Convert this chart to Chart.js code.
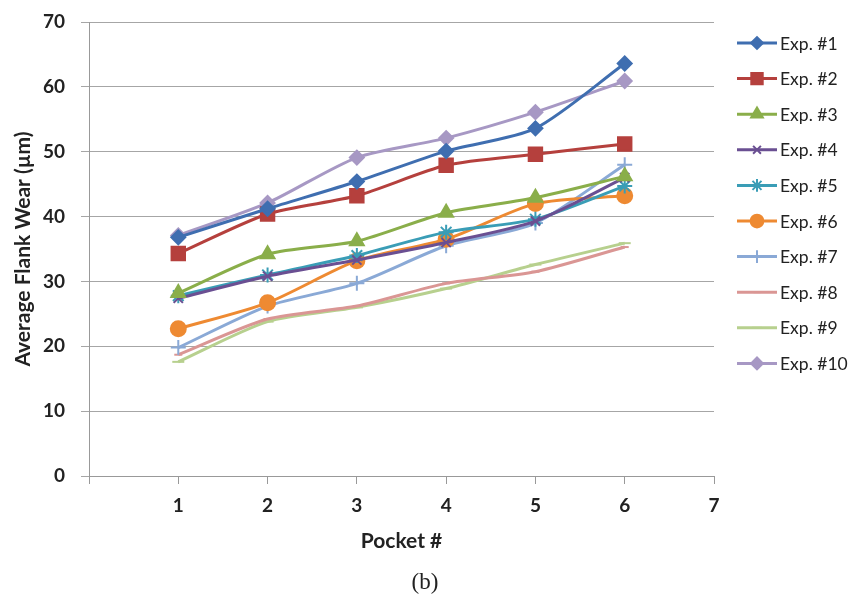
<!DOCTYPE html>
<html>
<head>
<meta charset="utf-8">
<script src="https://cdn.jsdelivr.net/npm/chart.js@4.4.1/dist/chart.umd.min.js"></script>
<style>
  body { margin: 0; background: #fff; }
  #wrap { width: 861px; height: 598px; }
</style>
</head>
<body>
<div id="wrap"><canvas id="wear_chart" width="861" height="598"></canvas></div>
<script>
// values (pocket number vs. average flank wear, um)
const pockets = [1, 2, 3, 4, 5, 6];
const exp1 = [36.8, 41.2, 45.4, 50.1, 53.6, 63.6];
const exp2 = [34.3, 40.4, 43.2, 47.9, 49.6, 51.2];
const exp3 = [28.2, 34.2, 36.2, 40.6, 42.9, 46.2];
const exp4 = [27.4, 30.8, 33.3, 36.0, 39.3, 46.0];
const exp5 = [27.8, 31.0, 34.0, 37.6, 39.6, 44.7];
const exp6 = [22.7, 26.7, 33.2, 36.5, 42.0, 43.2];
const exp7 = [19.8, 26.2, 29.7, 35.5, 39.0, 48.0];
const exp8 = [18.7, 24.2, 26.2, 29.7, 31.5, 35.3];
const exp9 = [17.6, 23.8, 26.0, 28.9, 32.6, 35.9];
const exp10 = [37.1, 42.1, 49.1, 52.1, 56.1, 60.9];

const series_names = ['Exp. #1', 'Exp. #2', 'Exp. #3', 'Exp. #4', 'Exp. #5',
                      'Exp. #6', 'Exp. #7', 'Exp. #8', 'Exp. #9', 'Exp. #10'];
const series_values = [exp1, exp2, exp3, exp4, exp5, exp6, exp7, exp8, exp9, exp10];
const y_ticks = [0, 10, 20, 30, 40, 50, 60, 70];
const x_ticks = [1, 2, 3, 4, 5, 6, 7];

const colors = ['#3f6eb0', '#b5403d', '#8aae4a', '#6a4f92', '#3a9db6',
                '#ee8a32', '#8aa9d6', '#da9694', '#b7d08e', '#a798c4'];
const markers = [
    { style: 'rectRot', r: 7 },
    { style: 'rect', r: 9.5 },
    { style: 'triangle', r: 8 },
    { style: 'crossRot', r: 6.5 },
    { style: 'star', r: 7.5 },
    { style: 'circle', r: 7.5 },
    { style: 'cross', r: 7.5 },
    { style: 'line', r: 4 },
    { style: 'line', r: 6 },
    { style: 'rectRot', r: 7 }
];

const datasets = series_values.map(function(vals, i) {
    return {
        label: series_names[i],
        data: vals.map((v, k) => ({ x: pockets[k], y: v })),
        borderColor: colors[i],
        backgroundColor: colors[i],
        borderWidth: 3,
        tension: 0.25,
        pointStyle: markers[i].style,
        pointRadius: markers[i].r,
        pointBorderWidth: 2,
        pointBorderColor: colors[i],
        pointBackgroundColor: colors[i],
        fill: false
    };
});

const tick_font = { family: 'Lato', size: 19, weight: 'bold' };
const title_font = { family: 'Lato', size: 21, weight: 'bold' };

// legend on the right (line + marker like the spreadsheet one) and the "(b)" caption
const side_legend = {
    id: 'side_legend',
    afterDraw(chart) {
        const ctx = chart.ctx;
        ctx.save();
        chart.data.datasets.forEach(function(ds, i) {
            const y = 43 + i * 35.6;
            ctx.strokeStyle = ds.borderColor;
            ctx.lineWidth = 3;
            ctx.beginPath();
            ctx.moveTo(737, y);
            ctx.lineTo(777, y);
            ctx.stroke();
            ctx.fillStyle = ds.backgroundColor;
            ctx.lineWidth = 2;
            if (Chart.helpers && Chart.helpers.drawPoint) {
                Chart.helpers.drawPoint(ctx, {
                    pointStyle: ds.pointStyle,
                    radius: ds.pointRadius * 0.85,
                    rotation: 0,
                    borderWidth: 2
                }, 757, y);
            }
            ctx.fillStyle = '#222';
            ctx.font = '17.5px Lato';
            ctx.textAlign = 'left';
            ctx.textBaseline = 'middle';
            ctx.fillText(ds.label, 780, y + 1);
        });
        ctx.fillStyle = '#222';
        ctx.font = '23px "Liberation Serif"';
        ctx.textAlign = 'center';
        ctx.textBaseline = 'middle';
        ctx.fillText('(b)', 425, 583);
        ctx.restore();
    }
};

window.onload = function() {
    const ctx = document.getElementById('wear_chart').getContext('2d');
    new Chart(ctx, {
        type: 'line',
        data: { datasets: datasets },
        options: {
            responsive: false,
            animation: false,
            layout: { padding: { left: 0, top: 22, right: 147, bottom: 0 } },
            plugins: {
                legend: { display: false },
                tooltip: { enabled: false }
            },
            scales: {
                x: {
                    type: 'linear',
                    min: 0,
                    max: 7,
                    afterFit: function(scale) { scale.height = 122; },
                    afterBuildTicks: function(scale) {
                        scale.ticks = [0].concat(x_ticks).map(v => ({ value: v }));
                    },
                    ticks: {
                        font: tick_font,
                        color: '#222',
                        padding: 10,
                        callback: function(value) {
                            return value === 0 ? '' : value;
                        }
                    },
                    grid: {
                        drawOnChartArea: false,
                        drawTicks: true,
                        tickLength: 8,
                        color: '#999'
                    },
                    border: { color: '#999', width: 1 },
                    title: {
                        display: true,
                        text: 'Pocket #',
                        font: title_font,
                        color: '#222',
                        padding: { top: 4, bottom: 44 }
                    }
                },
                y: {
                    min: 0,
                    max: 70,
                    afterFit: function(scale) {
                        scale.width = 89;
                        // let the plot start right at the top padding
                        scale.paddingTop = 0;
                    },
                    afterBuildTicks: function(scale) {
                        scale.ticks = y_ticks.map(v => ({ value: v }));
                    },
                    ticks: {
                        font: tick_font,
                        color: '#222',
                        padding: 16
                    },
                    grid: {
                        color: '#a6a6a6',
                        tickLength: 8,
                        lineWidth: 1
                    },
                    border: { color: '#999', width: 1 },
                    title: {
                        display: true,
                        text: 'Average Flank Wear (µm)',
                        font: title_font,
                        color: '#222',
                        padding: { top: 11, bottom: 4 }
                    }
                }
            }
        },
        plugins: [side_legend]
    });
};
</script>
</body>
</html>
